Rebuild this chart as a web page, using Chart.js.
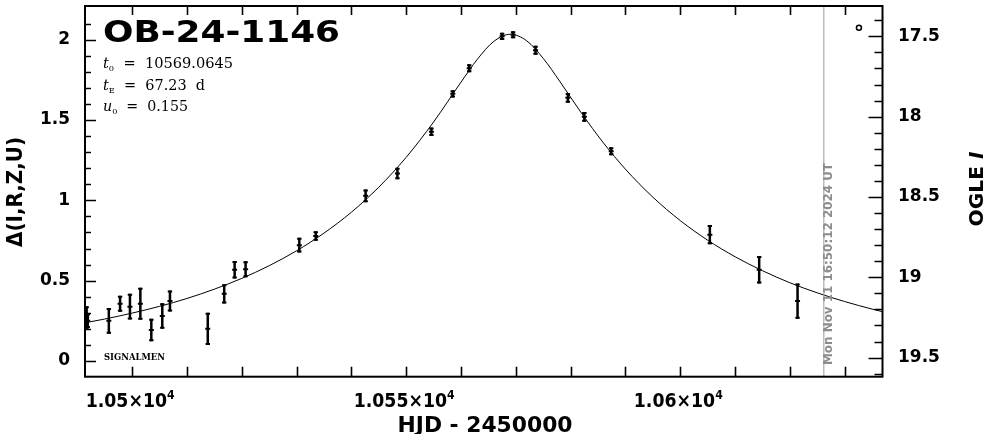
<!DOCTYPE html>
<html>
<head>
<meta charset="utf-8">
<title>OB-24-1146</title>
<script src="https://cdn.jsdelivr.net/npm/chart.js@4"></script>
<style>
  html, body { margin: 0; padding: 0; background: #fff; }
  #wrap { width: 986px; height: 434px; }
</style>
</head>
<body>
<div id="wrap"><canvas id="lc" width="986" height="434"></canvas></div>
<script>
// observed points (HJD - 2450000, delta mag, error)
const hjd = [10491.7, 10491.9, 10495.75, 10497.8, 10499.6, 10501.5, 10503.5, 10505.5, 10506.9, 10513.8,
  10516.8, 10518.7, 10520.7, 10530.5, 10533.5, 10542.6, 10548.4, 10554.6, 10558.5, 10561.5,
  10567.5, 10569.5, 10573.6, 10579.5, 10582.5, 10587.4, 10605.4, 10614.4, 10621.4];
const delta = [0.27, 0.25, 0.25, 0.356, 0.338, 0.356, 0.193, 0.28, 0.373, 0.2,
  0.418, 0.568, 0.571, 0.721, 0.778, 1.028, 1.167, 1.427, 1.663, 1.822,
  2.021, 2.031, 1.935, 1.638, 1.52, 1.305, 0.786, 0.568, 0.373];
const err = [0.07, 0.045, 0.08, 0.05, 0.08, 0.1, 0.07, 0.08, 0.065, 0.1,
  0.06, 0.055, 0.05, 0.046, 0.03, 0.04, 0.036, 0.026, 0.023, 0.025,
  0.023, 0.022, 0.028, 0.03, 0.03, 0.025, 0.06, 0.085, 0.11];

// model curve
const modelT = [10491, 10495, 10500, 10505, 10510, 10515, 10520, 10525, 10530, 10535,
  10540, 10545, 10550, 10555, 10560, 10563, 10566, 10569, 10572, 10575,
  10578, 10582, 10586, 10590, 10595, 10600, 10605, 10610, 10615, 10620,
  10625, 10630, 10635, 10637];
const modelD = [0.235, 0.261, 0.298, 0.340, 0.389, 0.447, 0.514, 0.593, 0.686, 0.796,
  0.926, 1.082, 1.268, 1.488, 1.736, 1.879, 1.990, 2.034, 1.993, 1.884,
  1.742, 1.542, 1.357, 1.194, 1.020, 0.874, 0.752, 0.649, 0.562, 0.487,
  0.424, 0.370, 0.323, 0.306];

const nowHJD = 10626.2;
const ogleMark = [10632.6, 2.074];

const xTicks = [10500, 10550, 10600];
const xTickLabels = [['1.05×10', '4'], ['1.055×10', '4'], ['1.06×10', '4']];
const yTicks = [0, 0.5, 1, 1.5, 2];
const yTickLabels = ['0', '0.5', '1', '1.5', '2'];
const magTicks = [17.5, 18, 18.5, 19, 19.5];
const magTickLabels = ['17.5', '18', '18.5', '19', '19.5'];

const SANS = "'DejaVu Sans'";
const SERIF = "'DejaVu Serif'";

// draw a run of text pieces, optionally squeezed to a width and rotated
function drawParts(ctx, parts, x, y, o) {
  o = o || {};
  ctx.save();
  ctx.fillStyle = o.color || '#000';
  ctx.textBaseline = o.base || 'alphabetic';
  ctx.textAlign = 'left';
  let w = 0;
  parts.forEach(p => { ctx.font = p.f; p.w = ctx.measureText(p.s).width; w += p.w; });
  const sx = o.width ? o.width / w : 1;
  ctx.translate(x, y);
  if (o.rot) ctx.rotate(o.rot);
  ctx.scale(sx, 1);
  let cx = o.align === 'center' ? -w / 2 : o.align === 'right' ? -w : 0;
  parts.forEach(p => {
    ctx.font = p.f;
    ctx.fillText(p.s, cx, p.dy || 0);
    cx += p.w;
  });
  ctx.restore();
}

const errorBars = {
  id: 'errorBars',
  beforeDatasetsDraw(chart) {
    const { ctx, scales: { x, y }, chartArea: a } = chart;
    ctx.save();
    ctx.beginPath();
    ctx.rect(a.left, a.top, a.right - a.left, a.bottom - a.top);
    ctx.clip();
    ctx.strokeStyle = '#000';
    hjd.forEach((t, i) => {
      const px = x.getPixelForValue(t);
      const top = y.getPixelForValue(delta[i] + err[i]);
      const bot = y.getPixelForValue(delta[i] - err[i]);
      ctx.lineWidth = 2.5;
      ctx.beginPath();
      ctx.moveTo(px, top); ctx.lineTo(px, bot);
      ctx.stroke();
      ctx.lineWidth = 2;
      ctx.beginPath();
      ctx.moveTo(px - 2.2, top + 1); ctx.lineTo(px + 2.2, top + 1);
      ctx.moveTo(px - 2.2, bot - 1); ctx.lineTo(px + 2.2, bot - 1);
      ctx.stroke();
    });
    ctx.restore();
  }
};

const frame = {
  id: 'frame',
  afterDraw(chart) {
    const { ctx, scales: { x, y, mag }, chartArea: a } = chart;
    ctx.save();
    ctx.strokeStyle = '#000';
    ctx.lineWidth = 2;
    ctx.strokeRect(a.left, a.top, a.right - a.left, a.bottom - a.top);

    ctx.lineWidth = 1.6;
    ctx.beginPath();
    for (let t = 10500; t <= 10636; t += 10) {
      const px = Math.round(x.getPixelForValue(t)) + 0.5;
      ctx.moveTo(px, a.bottom); ctx.lineTo(px, a.bottom - 10);
      ctx.moveTo(px, a.top); ctx.lineTo(px, a.top + 9);
    }
    for (let k = 0; k <= 21; k++) {
      const v = k / 10;
      const py = Math.round(y.getPixelForValue(v)) + 0.5;
      const len = k % 5 === 0 ? 11 : 6;
      ctx.moveTo(a.left, py); ctx.lineTo(a.left + len, py);
    }
    for (let k = 174; k <= 196; k++) {
      const v = k / 10;
      const py = Math.round(mag.getPixelForValue(v)) + 0.5;
      const len = k % 5 === 0 ? 14 : 8;
      ctx.moveTo(a.right, py); ctx.lineTo(a.right - len, py);
    }
    ctx.stroke();
    ctx.restore();

    const tickFont = 'bold 17px ' + SANS;
    yTicks.forEach((v, i) => {
      drawParts(ctx, [{ s: yTickLabels[i], f: tickFont }], 70, y.getPixelForValue(v),
        { align: 'right', base: 'middle' });
    });
    magTicks.forEach((v, i) => {
      drawParts(ctx, [{ s: magTickLabels[i], f: tickFont }], 898, mag.getPixelForValue(v),
        { base: 'middle' });
    });
    xTicks.forEach((v, i) => {
      drawParts(ctx, [
        { s: xTickLabels[i][0], f: 'bold 19px ' + SANS },
        { s: xTickLabels[i][1], f: 'bold 12px ' + SANS, dy: -8 }
      ], x.getPixelForValue(v) - 2, 407, { align: 'center', width: xTickLabels[i][0].length * 12 + 5 });
    });

    // axis titles
    drawParts(ctx, [{ s: 'HJD - 2450000', f: 'bold 21px ' + SANS }], 485, 432, { align: 'center', width: 175 });
    drawParts(ctx, [{ s: 'Δ(I,R,Z,U)', f: 'bold 21px ' + SANS }], 22, 192,
      { align: 'center', rot: -Math.PI / 2, width: 110 });
    drawParts(ctx, [
      { s: 'OGLE ', f: 'bold 20px ' + SANS },
      { s: 'I', f: 'italic bold 20px ' + SANS }
    ], 983, 189, { align: 'center', rot: -Math.PI / 2, width: 75 });

    // event name and parameters
    drawParts(ctx, [{ s: 'OB-24-1146', f: 'bold 30px ' + SANS }], 103, 42, { width: 237 });
    const pf = '14px ' + SERIF, pi = 'italic 14px ' + SERIF, ps = '8px ' + SERIF;
    drawParts(ctx, [{ s: 't', f: pi }, { s: '0', f: ps, dy: 3 }, { s: '  =  10569.0645', f: pf }], 103, 68, { width: 130 });
    drawParts(ctx, [{ s: 't', f: pi }, { s: 'E', f: ps, dy: 3 }, { s: '  =  67.23  d', f: pf }], 103, 90, { width: 102 });
    drawParts(ctx, [{ s: 'u', f: pi }, { s: '0', f: ps, dy: 3 }, { s: '  =  0.155', f: pf }], 103, 111, { width: 85 });

    drawParts(ctx, [{ s: 'SIGNALMEN', f: 'bold 10px ' + SERIF }], 104, 360, { width: 61 });

    drawParts(ctx, [{ s: 'Mon Nov 11 16:50:12 2024 UT', f: 'bold 12px ' + SANS }],
      829, 365, { rot: -Math.PI / 2, base: 'middle', width: 202, color: '#8c8c8c' });
  }
};

const points = hjd.map((t, i) => ({ x: t, y: delta[i] }));
const model = modelT.map((t, i) => ({ x: t, y: modelD[i] }));

new Chart(document.getElementById('lc'), {
  type: 'scatter',
  data: {
    datasets: [
      {
        label: 'now',
        data: [{ x: nowHJD, y: -0.2 }, { x: nowHJD, y: 2.4 }],
        showLine: true,
        borderColor: '#999',
        borderWidth: 1,
        pointRadius: 0
      },
      {
        label: 'model',
        data: model,
        showLine: true,
        borderColor: '#000',
        borderWidth: 1,
        pointRadius: 0,
        cubicInterpolationMode: 'monotone'
      },
      {
        label: 'data',
        data: points,
        pointStyle: 'line',
        pointRadius: 2.5,
        borderWidth: 2,
        borderColor: '#000',
        backgroundColor: '#000'
      },
      {
        label: 'OGLE',
        data: [{ x: ogleMark[0], y: ogleMark[1] }],
        pointStyle: 'circle',
        pointRadius: 2.5,
        borderWidth: 1.5,
        borderColor: '#000',
        backgroundColor: '#fff'
      }
    ]
  },
  options: {
    responsive: false,
    devicePixelRatio: 1,
    animation: false,
    layout: { padding: { left: 85, right: 103.5, top: 1, bottom: 57.3 } },
    plugins: { legend: { display: false }, tooltip: { enabled: false } },
    scales: {
      x: { type: 'linear', min: 10491.4, max: 10636.9, display: false },
      y: { type: 'linear', min: -0.098, max: 2.21, display: false },
      mag: { type: 'linear', position: 'right', min: 17.311, max: 19.619, reverse: true, display: false }
    }
  },
  plugins: [errorBars, frame]
});
</script>
</body>
</html>
